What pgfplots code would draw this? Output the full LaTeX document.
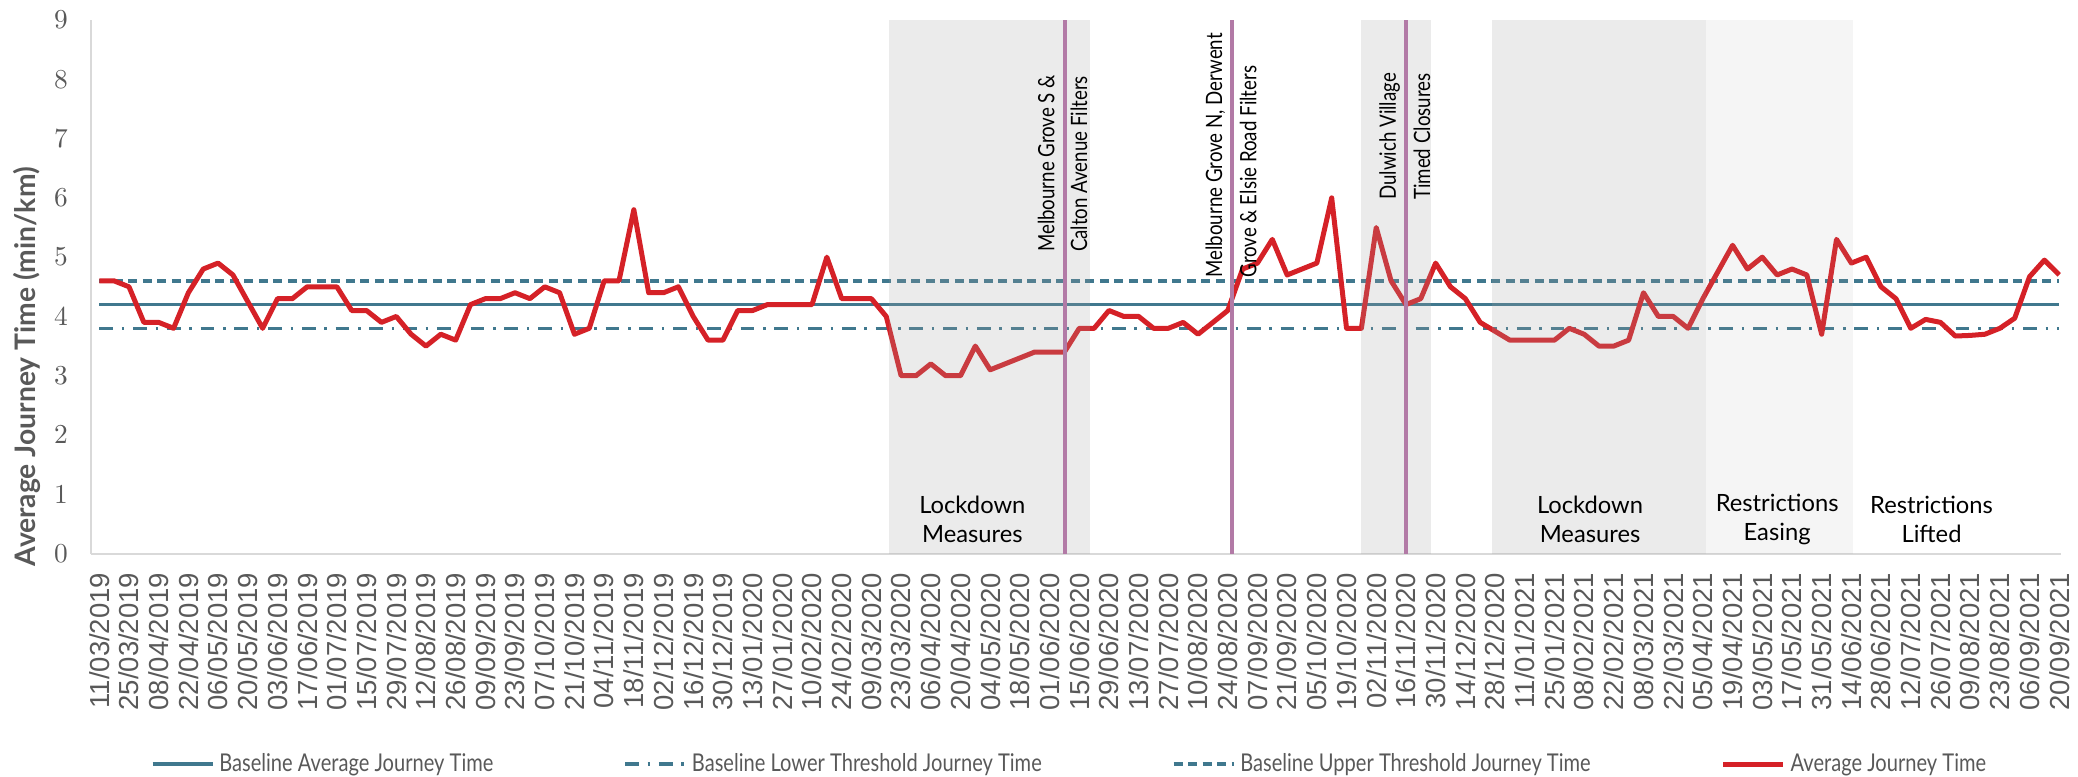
\documentclass[border=0pt]{standalone}
\usepackage{fontspec}
\setmainfont{Lato}
\newfontfamily\tickfont{Liberation Sans}
\newfontfamily\legfont[FakeStretch=0.82]{Lato}
\newfontfamily\annfont[FakeStretch=0.83]{Lato}
\usepackage{pgfplots}
\pgfplotsset{compat=1.18}
\definecolor{jred}{HTML}{D52127}
\definecolor{jblue}{HTML}{40788E}
\definecolor{jpurple}{HTML}{B27AA6}
\definecolor{txtgrey}{HTML}{595959}
\definecolor{axgrey}{HTML}{D9D9D9}
\definecolor{ovgrey}{HTML}{A0A0A0}
\begin{document}
\begin{tikzpicture}
\useasboundingbox (-36.28pt,-88.96pt) rectangle (794.92pt,221.44pt);
\begin{axis}[
  scale only axis,
  width=788pt, height=213.44pt,
  xmin=-0.58, xmax=132.1, ymin=0, ymax=9,
  axis lines=left,
  axis line style={-, draw=axgrey, line width=0.8pt},
  ytick={0,1,...,9},
  xtick={0,2,...,132},
  xticklabels={11/03/2019,25/03/2019,08/04/2019,22/04/2019,06/05/2019,20/05/2019,03/06/2019,17/06/2019,01/07/2019,15/07/2019,29/07/2019,12/08/2019,26/08/2019,09/09/2019,23/09/2019,07/10/2019,21/10/2019,04/11/2019,18/11/2019,02/12/2019,16/12/2019,30/12/2019,13/01/2020,27/01/2020,10/02/2020,24/02/2020,09/03/2020,23/03/2020,06/04/2020,20/04/2020,04/05/2020,18/05/2020,01/06/2020,15/06/2020,29/06/2020,13/07/2020,27/07/2020,10/08/2020,24/08/2020,07/09/2020,21/09/2020,05/10/2020,19/10/2020,02/11/2020,16/11/2020,30/11/2020,14/12/2020,28/12/2020,11/01/2021,25/01/2021,08/02/2021,22/02/2021,08/03/2021,22/03/2021,05/04/2021,19/04/2021,03/05/2021,17/05/2021,31/05/2021,14/06/2021,28/06/2021,12/07/2021,26/07/2021,09/08/2021,23/08/2021,06/09/2021,20/09/2021},
  major tick length=0pt,
  tick label style={inner sep=0pt},
  yticklabel style={font=\fontsize{11}{13}\selectfont, text=txtgrey},
  xticklabel style={font=\tickfont\fontsize{11}{13}\selectfont, text=txtgrey, rotate=90, anchor=east},
  xticklabel shift=7.5pt, yticklabel shift=9pt,
  ylabel={Average Journey Time (min/km)},
  every axis y label/.style={at={(axis description cs:0,0.35)}, xshift=-25.5pt, rotate=90, anchor=center, font=\bfseries\fontsize{11.3}{13}\selectfont, text=txtgrey},
  legend columns=4,
  legend style={at={(axis description cs:0.4976,0)}, yshift=-84.2pt, anchor=center, draw=none, fill=none,
    font=\legfont\fontsize{9.8}{11}\selectfont, text=txtgrey,
    /tikz/every even column/.append style={column sep=50pt}},
  legend image code/.code={\draw[#1] (0pt,0pt) -- (24pt,0pt);},
]
\addplot[jblue, line width=1.4pt] coordinates {(0,4.2) (132,4.2)};
\addlegendentry{Baseline Average Journey Time}
\addplot[jblue, line width=1.4pt, dash pattern=on 5.5pt off 3.5pt on 1pt off 3.5pt] coordinates {(0,3.8) (132,3.8)};
\addlegendentry{Baseline Lower Threshold Journey Time}
\addplot[jblue, line width=1.4pt, dash pattern=on 3.6pt off 2.2pt] coordinates {(0,4.6) (132,4.6)};
\addlegendentry{Baseline Upper Threshold Journey Time}
\addplot[jred, line width=2pt, line join=round] coordinates {
(0,4.6) (1,4.6) (2,4.5) (3,3.9) (4,3.9) (5,3.8) (6,4.4) (7,4.8) (8,4.9) (9,4.7)
(10,4.25) (11,3.8) (12,4.3) (13,4.3) (14,4.5) (15,4.5) (16,4.5) (17,4.1) (18,4.1) (19,3.9)
(20,4.0) (21,3.7) (22,3.5) (23,3.7) (24,3.6) (25,4.2) (26,4.3) (27,4.3) (28,4.4) (29,4.3)
(30,4.5) (31,4.4) (32,3.7) (33,3.8) (34,4.6) (35,4.6) (36,5.8) (37,4.4) (38,4.4) (39,4.5)
(40,4.0) (41,3.6) (42,3.6) (43,4.1) (44,4.1) (45,4.2) (46,4.2) (47,4.2) (48,4.2) (49,5.0)
(50,4.3) (51,4.3) (52,4.3) (53,4.0) (54,3.0) (55,3.0) (56,3.2) (57,3.0) (58,3.0) (59,3.5)
(60,3.1) (61,3.2) (62,3.3) (63,3.4) (64,3.4) (65,3.4) (66,3.8) (67,3.8) (68,4.1) (69,4.0)
(70,4.0) (71,3.8) (72,3.8) (73,3.9) (74,3.7) (75,3.9) (76,4.1) (77,4.8) (78,4.9) (79,5.3)
(80,4.7) (81,4.8) (82,4.9) (83,6.0) (84,3.8) (85,3.8) (86,5.5) (87,4.6) (88,4.2) (89,4.3)
(90,4.9) (91,4.5) (92,4.3) (93,3.9) (94,3.75) (95,3.6) (96,3.6) (97,3.6) (98,3.6) (99,3.8)
(100,3.7) (101,3.5) (102,3.5) (103,3.6) (104,4.4) (105,4.0) (106,4.0) (107,3.8) (108,4.3) (109,4.75)
(110,5.2) (111,4.8) (112,5.0) (113,4.7) (114,4.8) (115,4.7) (116,3.7) (117,5.3) (118,4.9) (119,5.0)
(120,4.5) (121,4.3) (122,3.8) (123,3.95) (124,3.9) (125,3.67) (126,3.68) (127,3.7) (128,3.8) (129,3.97)
(130,4.67) (131,4.95) (132,4.7)};
\addlegendentry{Average Journey Time}
% shaded periods (overlay)
\fill[ovgrey, fill opacity=0.21] (axis cs:53.2,0) rectangle (axis cs:66.7,9);
\fill[ovgrey, fill opacity=0.21] (axis cs:85.0,0) rectangle (axis cs:89.7,9);
\fill[ovgrey, fill opacity=0.21] (axis cs:93.8,0) rectangle (axis cs:108.2,9);
\fill[ovgrey, fill opacity=0.105] (axis cs:108.2,0) rectangle (axis cs:118.1,9);
% intervention lines
\draw[jpurple, line width=1.6pt] (axis cs:65.05,0) -- (axis cs:65.05,9);
\draw[jpurple, line width=1.6pt] (axis cs:76.3,0) -- (axis cs:76.3,9);
\draw[jpurple, line width=1.6pt] (axis cs:88.0,0) -- (axis cs:88.0,9);
% annotations
\tikzset{ann/.style={rotate=90, anchor=mid west, inner sep=0pt, font=\annfont\fontsize{9}{11}\selectfont, text=black}}
\node[ann] at (axis cs:63.9,5.08) {Melbourne Grove S \&};
\node[ann] at (axis cs:66.1,5.08) {Calton Avenue Filters};
\node[ann] at (axis cs:75.2,4.65) {Melbourne Grove N, Derwent};
\node[ann] at (axis cs:77.5,4.65) {Grove \& Elsie Road Filters};
\node[ann] at (axis cs:86.9,5.96) {Dulwich Village};
\node[ann] at (axis cs:89.2,5.96) {Timed Closures};
\tikzset{per/.style={align=center, anchor=center, inner sep=0pt, font=\fontsize{9.5}{11.6}\selectfont, text=black}}
\node[per] at (axis cs:58.8,0.575) {Lockdown\\Measures};
\node[per] at (axis cs:100.4,0.575) {Lockdown\\Measures};
\node[per] at (axis cs:113.0,0.575) {Restrictions\\Easing};
\node[per] at (axis cs:123.4,0.575) {Restrictions\\Lifted};
\end{axis}
\end{tikzpicture}
\end{document}
